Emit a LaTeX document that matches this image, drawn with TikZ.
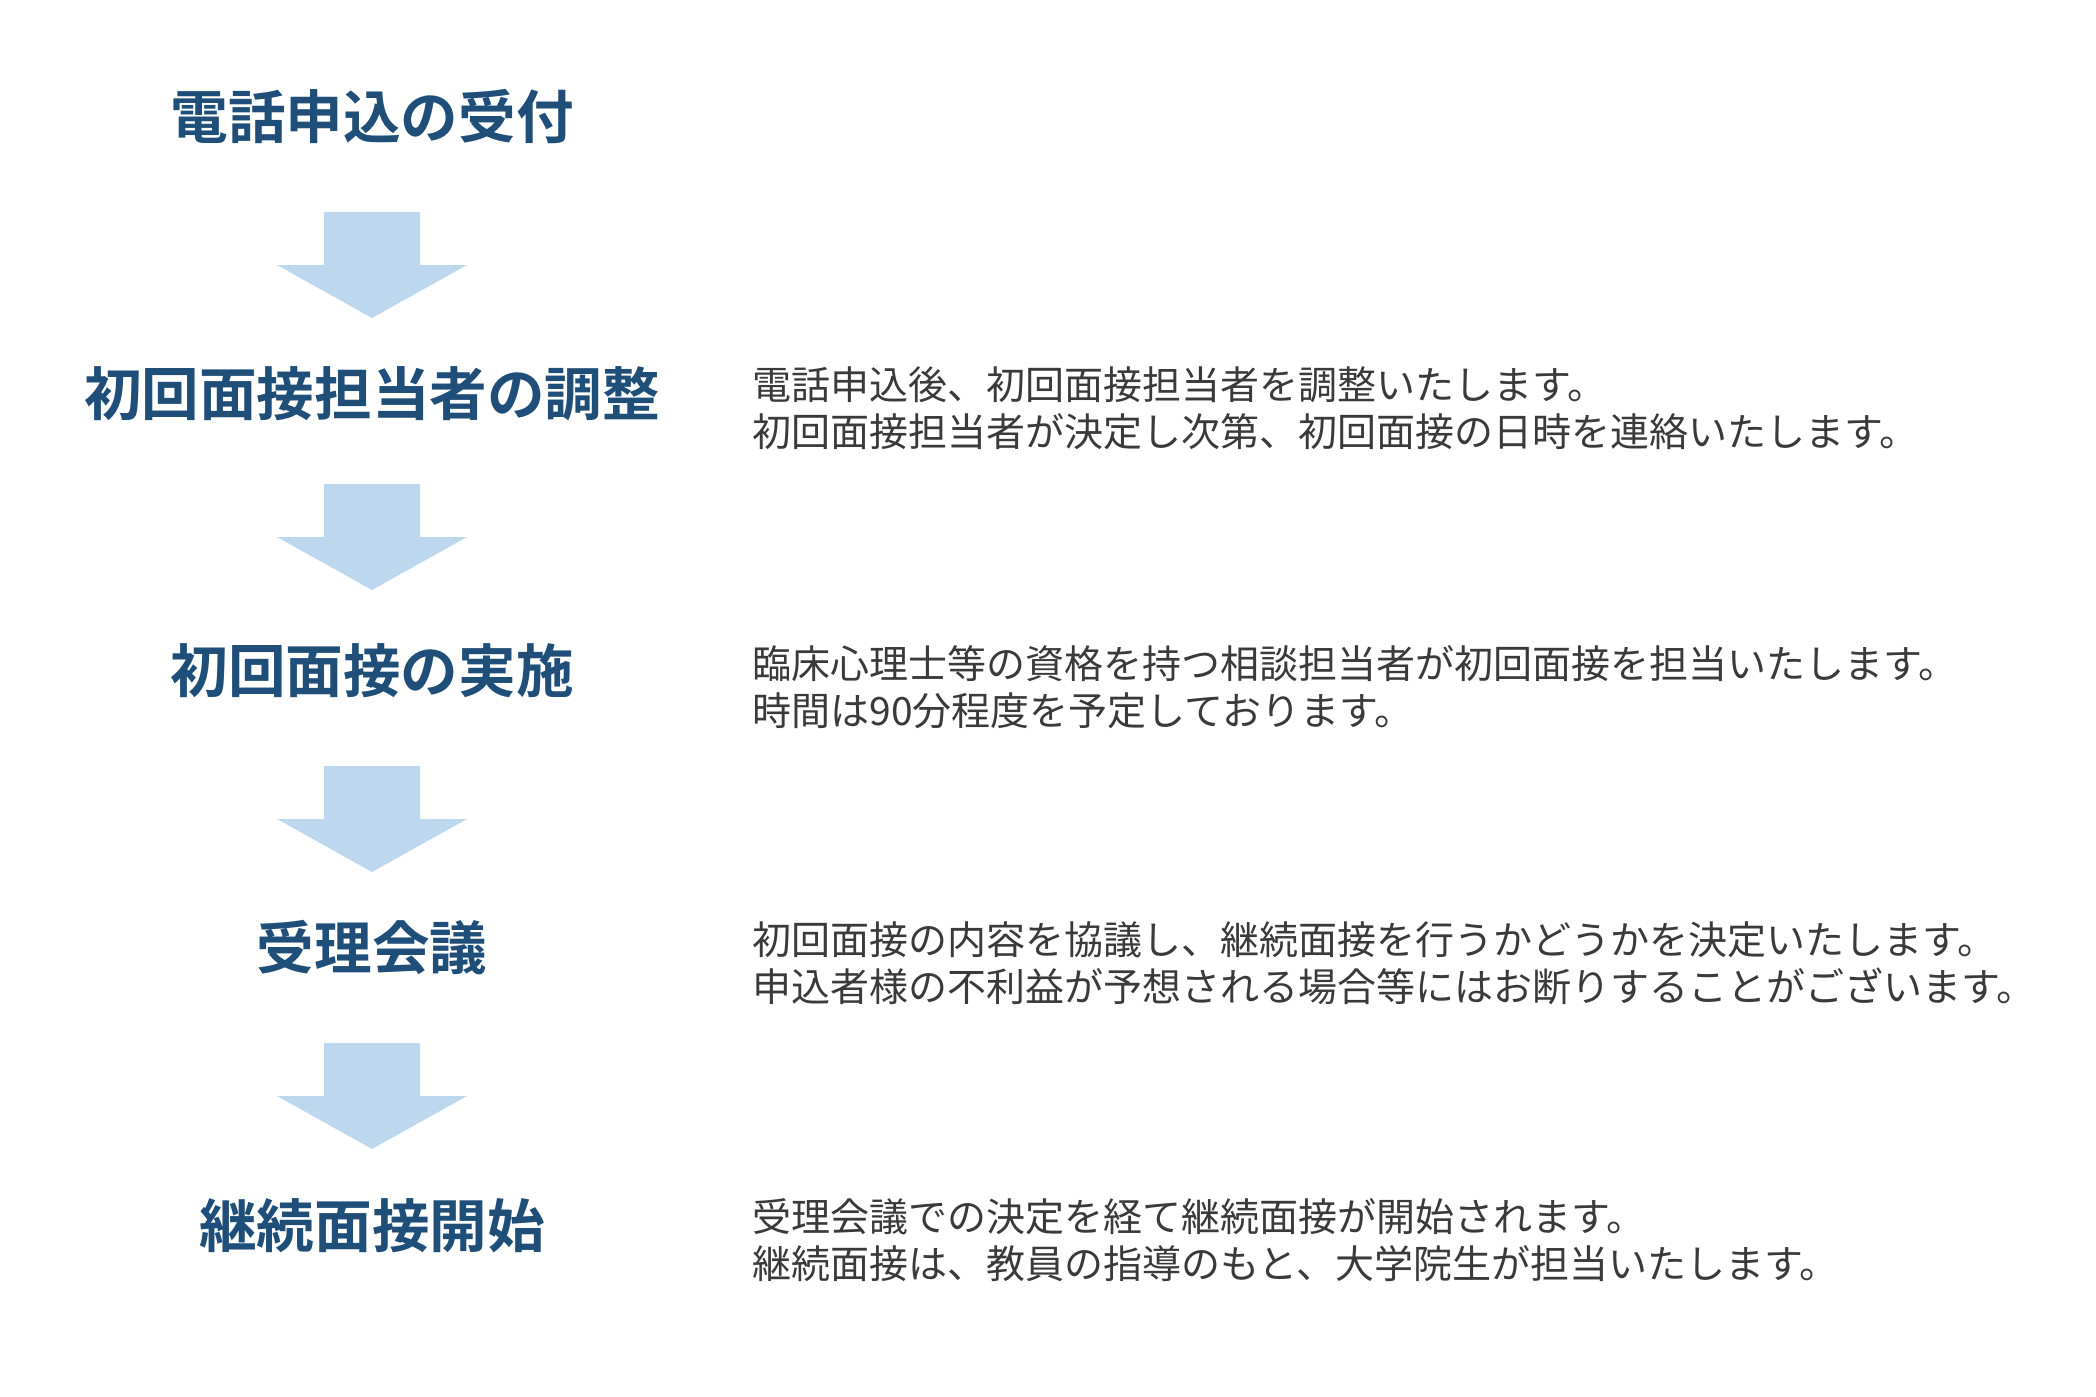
\documentclass[tikz,border=0pt]{standalone}
\usepackage{fontspec}
\newfontfamily\jp{Noto Sans CJK JP}
\newfontfamily\jpb{Noto Sans CJK JP Bold}
\definecolor{titleblue}{HTML}{1F4E79}
\definecolor{arrowblue}{HTML}{BDD7EE}
\definecolor{bodygray}{HTML}{3A3A3A}
\begin{document}
\begin{tikzpicture}[x=0.5pt,y=-0.5pt,
  stagetitle/.style={inner sep=0pt, text=titleblue, font=\jpb\fontsize{28.8pt}{34pt}\selectfont},
  desc/.style={anchor=west, inner sep=0pt, text=bodygray, align=left, font=\jp\fontsize{19.5pt}{23.5pt}\selectfont},
  flowarrow/.style={fill=arrowblue, draw=none}
]
\useasboundingbox (0,0) rectangle (2096,1396);
\def\cx{372}
% titles
\node[stagetitle] (t1) at (\cx,117) {電話申込の受付};
\node[stagetitle] (t2) at (\cx,394) {初回面接担当者の調整};
\node[stagetitle] (t3) at (\cx,671) {初回面接の実施};
\node[stagetitle] (t4) at (\cx,948) {受理会議};
\node[stagetitle] (t5) at (\cx,1226) {継続面接開始};
% descriptions
\node[desc] (d2) at (752,408) {電話申込後、初回面接担当者を調整いたします。\\初回面接担当者が決定し次第、初回面接の日時を連絡いたします。};
\node[desc] (d3) at (752,687) {臨床心理士等の資格を持つ相談担当者が初回面接を担当いたします。\\時間は90分程度を予定しております。};
\node[desc] (d4) at (752,963) {初回面接の内容を協議し、継続面接を行うかどうかを決定いたします。\\申込者様の不利益が予想される場合等にはお断りすることがございます。};
\node[desc] (d5) at (752,1240) {受理会議での決定を経て継続面接が開始されます。\\継続面接は、教員の指導のもと、大学院生が担当いたします。};
% arrows
\foreach \a/\y in {a1/117,a2/389,a3/671,a4/948}{
  \coordinate (\a) at (\cx,\y);
  \fill[flowarrow] ([shift={(-48,95)}]\a) -- ([shift={(48,95)}]\a) -- ([shift={(48,148)}]\a)
     -- ([shift={(95,148)}]\a) -- ([shift={(0,201)}]\a) -- ([shift={(-95,148)}]\a)
     -- ([shift={(-48,148)}]\a) -- cycle;
}
\end{tikzpicture}
\end{document}
